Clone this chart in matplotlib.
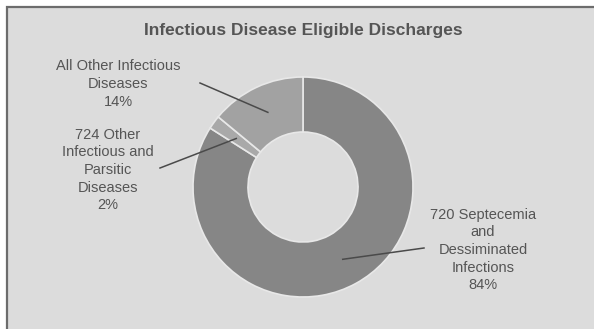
import numpy as np
import matplotlib.pyplot as plt
from matplotlib.patches import Rectangle

# data ------------------------------------------------------------
categories = ['720 Septecemia\nand\nDessiminated\nInfections',
              '724 Other\nInfectious and\nParsitic\nDiseases',
              'All Other Infectious\nDiseases']
shares = [84, 2, 14]
colors = ['#868686', '#a9a9a9', '#a2a2a2']
title = 'Infectious Disease Eligible Discharges'

# layout (pixels, origin bottom-left) -----------------------------
W, H = 594, 329
center = (303, H - 187)
radius = 110
label_pos = [(483, H - 250), (108, H - 170), (118, H - 84)]
line_start = [(424, H - 248), (160, H - 168), (200, H - 83)]
txt_col = '#555555'

fig = plt.figure(figsize=(W / 100, H / 100), dpi=100)
fig.patch.set_facecolor('white')
ax = fig.add_axes([0, 0, 1, 1])
ax.add_patch(Rectangle((7, -20), W + 40, H - 7 + 20, facecolor='#dcdcdc',
                       edgecolor='#6c6c6c', linewidth=1.6, zorder=0))

wedges, _ = ax.pie(shares, colors=colors, startangle=90, counterclock=False,
                   radius=radius, center=center, frame=True,
                   wedgeprops=dict(width=radius * 0.5, edgecolor='#e8e8e8', linewidth=1.2))

for w, lab, s, pos, st in zip(wedges, categories, shares, label_pos, line_start):
    ang = np.deg2rad((w.theta1 + w.theta2) / 2)
    end = (center[0] + 0.75 * radius * np.cos(ang), center[1] + 0.75 * radius * np.sin(ang))
    ax.plot([st[0], end[0]], [st[1], end[1]], color='#4a4a4a', lw=1.1, zorder=3)
    ax.text(pos[0], pos[1], lab + '\n%d%%' % s, ha='center', va='center',
            fontsize=10.5, color=txt_col, family='Liberation Sans', linespacing=1.34)

ax.text(303, H - 30, title, ha='center', va='center', fontsize=12.5,
        color=txt_col, family='Liberation Sans', fontweight='bold')

ax.set_xlim(0, W)
ax.set_ylim(0, H)
ax.set_aspect('auto')
ax.axis('off')
fig.savefig('out.png', dpi=100, facecolor='white')
